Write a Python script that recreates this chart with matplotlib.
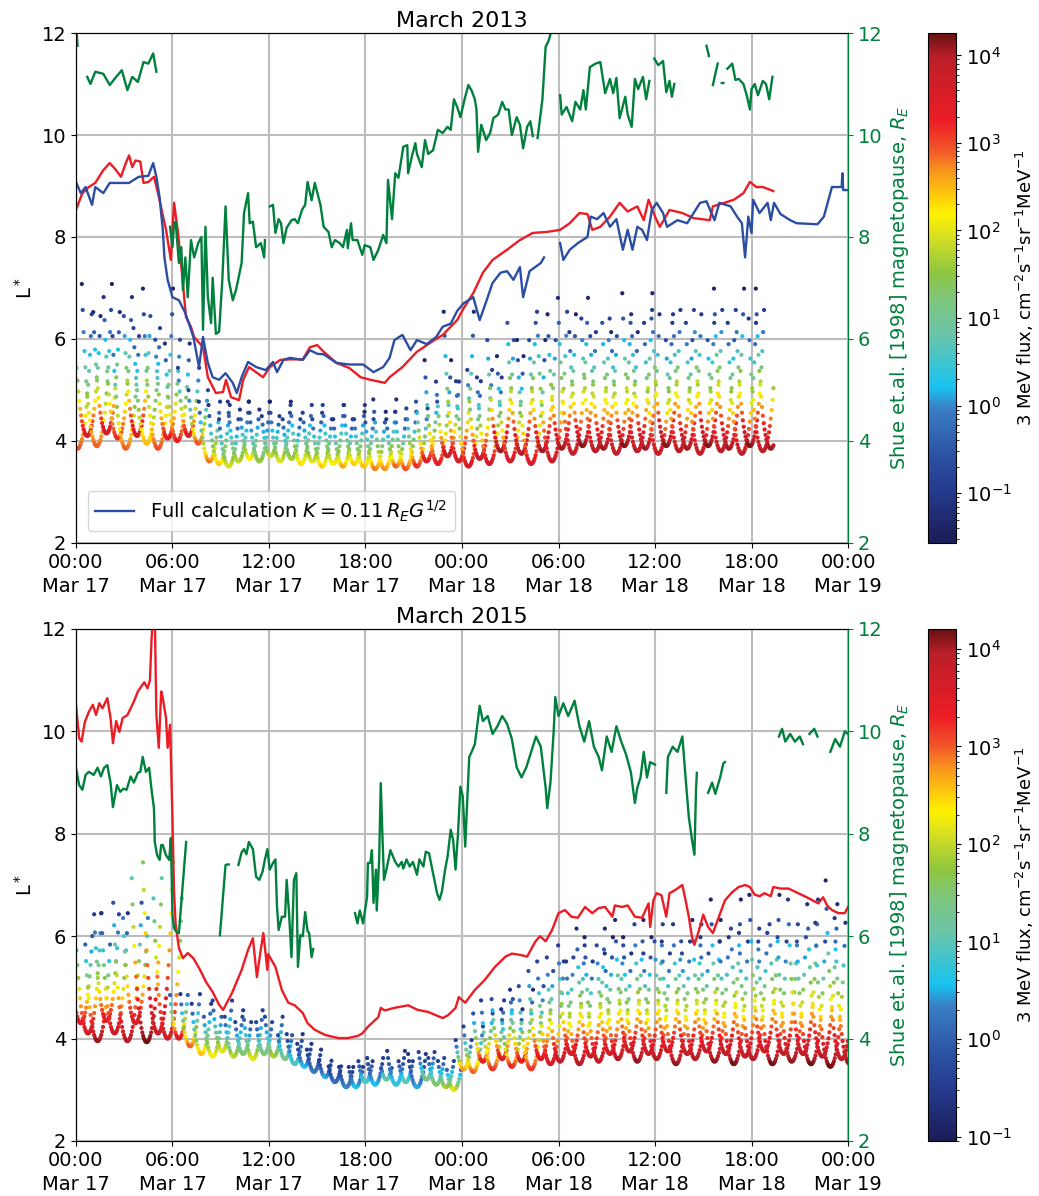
import numpy as np
import matplotlib
matplotlib.use('Agg')
import matplotlib.pyplot as plt
from matplotlib.colors import LinearSegmentedColormap, LogNorm

nan = np.nan

# ---------------- March 2013 (hours from 00:00 Mar 17) ----------------
red_13_t = [0.0, 0.4, 0.8, 1.2, 1.7, 2.1, 2.5, 2.8, 3.1, 3.3, 3.5, 3.7, 4.0, 4.2, 4.5, 4.85,
            5.1, 5.6, 5.9, 6.1, 6.34, 6.65, 6.84, 7.15, 7.34, 7.9, 8.2, 8.7, 9.14, 9.33, 9.64,
            10.14, 10.4, 10.76, 11.63, 12.06, 12.7, 13.3, 14.1, 14.55, 15.0, 15.4, 16.2, 17.0,
            17.7, 18.3, 19.2, 19.5, 20.3, 21.2, 22.0, 22.8, 23.7, 24.1, 24.7, 25.3, 25.9, 26.8,
            27.6, 28.4, 29.3, 30.1, 30.7, 31.3, 31.8, 32.1, 32.6, 33.2, 33.8, 34.3, 34.9, 35.3,
            35.6, 36.0, 36.3, 36.9, 37.7, 38.4, 39.4, 39.6, 40.9, 41.5, 41.9, 42.3, 42.7, 43.2, 43.35]
red_13 = [8.53, 8.86, 8.98, 9.06, 9.31, 9.45, 9.31, 9.18, 9.45, 9.6, 9.37, 9.5, 9.48, 9.06, 9.08, 9.18,
          8.86, 8.14, 7.55, 8.67, 8.1, 7.1, 6.43, 6.24, 6.04, 5.84, 5.25, 4.94, 4.96, 5.2, 4.86,
          4.8, 5.2, 5.45, 5.25, 5.45, 5.59, 5.6, 5.6, 5.84, 5.88, 5.75, 5.53, 5.43,
          5.25, 5.2, 5.14, 5.25, 5.45, 5.75, 5.92, 6.08, 6.37, 6.6, 6.9, 7.3, 7.55, 7.75,
          7.94, 8.08, 8.1, 8.14, 8.27, 8.47, 8.45, 8.14, 8.2, 8.4, 8.67, 8.5, 8.6, 8.33,
          8.73, 8.4, 8.2, 8.53, 8.47, 8.37, 8.33, 8.6, 8.73, 8.86, 9.08, 8.98, 8.98, 8.92, 8.9]

blue_13_t = [0.0, 0.3, 0.6, 1.0, 1.2, 1.7, 2.1, 2.7, 3.3, 3.9, 4.5, 4.8, 5.0, 5.2, 5.4, 5.5, 5.7,
             6.0, 6.4, 6.8, 7.3, 7.65, 7.9, 8.2, 8.5, 8.9, 9.3, 9.75, 10.0, 10.3, 10.7, 11.2, 11.8,
             12.25, 12.5, 12.9, 13.3, 14.1, 14.55, 15.0, 15.4, 16.2, 17.0, 17.85, 18.5, 19.1, 19.5,
             19.8, 20.3, 20.8, 21.2, 21.8, 22.4, 22.8, 23.3, 23.7, 24.1, 24.7, 25.1, 25.6, 25.9,
             26.4, 26.8, 27.2, 27.6, 27.8, 28.2, 28.9, 29.1, 29.6, 30.1, 30.3, 30.7, 31.2, 31.8,
             32.0, 32.4, 32.8, 33.2, 33.6, 34.0, 34.3, 34.6, 34.9, 35.2, 35.5, 35.8, 36.1, 36.5,
             36.75, 37.4, 38.0, 38.8, 39.2, 39.7, 40.0, 40.7, 41.1, 41.4, 41.6, 41.8, 42.0, 42.1,
             42.5, 43.0, 43.2, 43.4, 43.8, 44.4, 44.8, 46.1, 46.5, 47.0, 47.6, 47.65, 47.7, 48.0]
blue_13 = [9.08, 8.86, 8.98, 8.63, 8.98, 8.86, 9.06, 9.06, 9.06, 9.18, 9.2, 9.45, 9.18, 8.78, 8.14, 7.6, 7.16,
           6.82, 6.76, 6.51, 6.04, 5.45, 6.04, 5.53, 5.25, 5.2, 5.33, 5.14, 4.94, 5.25, 5.55, 5.45, 5.39,
           5.55, 5.35, 5.59, 5.63, 5.59, 5.78, 5.71, 5.7, 5.53, 5.5, 5.5, 5.35, 5.45, 5.63,
           5.98, 6.08, 5.78, 5.98, 5.9, 6.04, 6.24, 6.3, 6.55, 6.7, 6.82, 6.37, 6.82, 7.1,
           7.3, 7.33, 7.16, 7.41, 6.82, 7.33, 7.49, 7.6, nan, 7.88, 7.55, 7.75, 7.88, 8.0,
           8.4, 8.35, 8.47, 8.2, 8.35, 7.75, 8.14, 7.75, 8.2, 8.14, 7.94, 8.53, 8.67, 8.47,
           8.2, 8.33, 8.27, 8.67, 8.7, 8.33, 8.67, 8.6, 8.4, 8.27, 7.6, 8.4, 8.08, 8.73,
           8.47, 8.67, 8.33, 8.67, 8.45, 8.33, 8.27, 8.25, 8.4, 8.98, 8.98, 9.25, 8.92, 8.92]

green_13_t = [0.0, 0.1, 0.4, 0.7, 0.9, 1.2, 1.7, 2.1, 2.5, 2.85, 3.2, 3.5, 3.85, 4.2, 4.5, 4.8, 5.0,
              5.4, 5.85, 6.0, 6.1, 6.2, 6.4, 6.55, 6.65, 6.8, 6.95, 7.15, 7.35, 7.6, 7.8, 7.9, 8.05,
              8.2, 8.4, 8.5, 8.7, 8.9, 9.1, 9.3, 9.5, 9.75, 9.95, 10.3, 10.45, 10.7, 10.8, 11.0,
              11.2, 11.5, 11.7, 11.75, 11.9, 12.06, 12.25, 12.4, 12.6, 12.75, 12.9, 13.1, 13.4,
              13.6, 13.8, 14.05, 14.25, 14.4, 14.65, 14.85, 15.2, 15.4, 15.7, 15.9, 16.1, 16.4,
              16.6, 16.85, 16.9, 17.1, 17.2, 17.5, 17.8, 17.95, 18.3, 18.5, 18.8, 19.1, 19.3,
              19.4, 19.65, 19.85, 20.05, 20.35, 20.6, 20.65, 20.9, 21.1, 21.2, 21.5, 21.7, 21.9,
              22.2, 22.5, 22.8, 23.1, 23.3, 23.5, 23.7, 23.9, 24.2, 24.4, 24.6, 24.8, 24.9, 25.0,
              25.2, 25.5, 25.75, 25.95, 26.25, 26.5, 26.7, 26.9, 27.1, 27.4, 27.6, 27.8, 28.05,
              28.25, 28.4, 28.55, 28.7, 29.0, 29.2, 29.4, 29.6, 29.85, 30.1, 30.2, 30.5, 30.85,
              31.05, 31.35, 31.55, 31.7, 31.95, 32.3, 32.6, 32.9, 33.2, 33.4, 33.6, 33.8, 34.15,
              34.3, 34.55, 34.75, 34.95, 35.25, 35.45, 35.65, 35.8, 35.95, 36.2, 36.5, 36.7, 36.9,
              37.05, 37.2, 38.0, 39.2, 39.35, 39.45, 39.6, 39.75, 39.9, 40.05, 40.15, 40.25, 40.35,
              40.5, 40.8, 41.0, 41.2, 41.5, 41.7, 41.9, 42.0, 42.2, 42.4, 42.7, 42.9, 43.1, 43.3]
green_13 = [12.2, 11.75, nan, 11.14, 11.0, 11.24, 11.2, 10.98, 11.14, 11.27, 10.88, 11.14, 11.04, 11.43, 11.4, 11.6, 11.24,
            nan, 8.2, 7.8, 8.27, 8.3, 7.49, 7.8, 6.96, 7.6, 6.82, 7.94, 7.6, 7.88, 8.0, 6.18, 8.2,
            6.82, 6.31, 7.2, 6.1, 6.14, 7.16, 8.6, 7.16, 6.76, 6.96, 7.49, 8.47, 8.86, 8.27, 8.3,
            7.8, 7.88, 7.6, 7.94, nan, 8.6, 8.63, 8.08, 8.35, 8.27, 7.88, 8.18, 8.33,
            8.35, 8.27, 8.53, 8.63, 9.08, 8.72, 9.06, 8.63, 8.2, 8.1, 7.8, 7.94, 7.88,
            7.8, 8.14, 7.78, 8.27, 7.94, 7.94, 7.65, 7.84, 7.8, 7.55, 7.75, 8.04, 7.88,
            9.12, 8.35, 9.25, 9.16, 9.77, 9.8, 9.25, 9.6, 9.84, 9.63, 9.37, 9.9, 9.63,
            9.7, 10.1, 10.04, 10.16, 10.1, 10.7, 10.55, 10.35, 10.75, 10.98, 10.87, 10.7, 10.5, 9.67,
            10.2, 9.9, 10.04, 10.33, 10.4, 10.65, 10.5, 10.5, 10.0, 10.35, 10.2, 9.74, 10.16,
            10.27, 9.98, nan, 9.94, 10.7, 11.73, 11.86, 12.1, nan, 10.78, 10.4, 10.55, 10.27,
            10.65, 10.5, 10.88, 10.5, 11.33, 11.4, 11.43, 10.82, 11.1, 10.82, 11.12, 10.33, 10.75,
            10.4, 10.16, 11.1, 10.9, 11.14, 10.7, 11.06, nan, 11.5, 11.37, 11.45, 10.84, 11.06,
            10.75, 11.0, nan, 11.75, 11.55, nan, 10.98, 11.2, 11.4, nan, 11.02, 11.02, nan,
            11.3, 11.4, 11.08, 11.1, 11.0, 10.78, 10.5, 10.9, 11.0, 10.78, 11.06, 11.0, 10.7, 11.14]

# ---------------- March 2015 ----------------
red_15_t = [0.0, 0.2, 0.35, 0.55, 0.8, 1.05, 1.25, 1.45, 1.65, 1.95, 2.15, 2.3, 2.5, 2.7, 2.9, 3.2,
            3.4, 3.6, 3.85, 4.05, 4.25, 4.45, 4.6, 4.7, 4.8, 4.9, 5.0, 5.15, 5.3, 5.4, 5.6, 5.7,
            5.85, 6.0, 6.1, 6.2, 6.4, 6.65, 6.95, 7.3, 7.65, 8.1, 8.5, 8.9, 9.15, 9.7, 10.3,
            10.7, 11.0, 11.25, 11.45, 11.65, 11.9, 11.95, 12.4, 12.8, 13.2, 13.6, 14.1, 14.4,
            14.85, 15.5, 16.3, 16.9, 17.5, 17.8, 18.15, 18.6, 18.8, 18.95, 19.2, 19.8, 20.65,
            21.25, 21.9, 22.35, 22.8, 23.15, 23.6, 23.8, 24.2, 24.8, 25.4, 26.05, 26.7, 27.1,
            27.7, 28.05, 28.55, 28.85, 29.2, 29.6, 30.0, 30.4, 30.8, 31.2, 31.65, 32.1, 32.5,
            32.9, 33.35, 33.5, 33.95, 34.3, 34.75, 35.2, 35.6, 35.7, 35.9, 36.1, 36.4, 36.7,
            36.9, 37.25, 37.7, 37.9, 38.1, 38.3, 38.45, 38.7, 39.0, 39.3, 39.6, 39.9, 40.35,
            40.8, 41.2, 41.6, 41.9, 42.2, 42.5, 42.8, 43.2, 43.35, 43.8, 44.3, 44.9, 45.5,
            46.15, 46.45, 46.7, 47.0, 47.4, 47.8, 48.0]
red_15 = [10.52, 9.87, 9.8, 10.18, 10.38, 10.52, 10.32, 10.55, 10.45, 10.65, 10.26, 9.77, 10.2, 9.99, 10.26, 10.32,
          10.45, 10.58, 10.78, 10.87, 10.96, 10.84, 11.0, 11.8, 12.3, 12.3, 10.32, 9.68, 10.78, 10.65, 10.26, 9.68,
          10.13, 8.3, 6.86, 6.22, 5.77, 5.57, 5.67, 5.57, 5.38, 5.1, 4.91, 4.66, 4.56, 4.89, 5.34,
          5.73, 5.96, 5.2, 5.65, 6.06, 5.34, 5.65, 5.4, 4.95, 4.7, 4.65, 4.5, 4.3,
          4.17, 4.07, 4.01, 4.01, 4.05, 4.1, 4.23, 4.36, 4.42, 4.6, 4.55, 4.6, 4.65,
          4.56, 4.52, 4.46, 4.4, 4.46, 4.6, 4.81, 4.7, 4.95, 5.14, 5.4, 5.6, 5.66,
          5.63, 5.6, 5.89, 6.0, 5.9, 6.12, 6.45, 6.51, 6.38, 6.36, 6.57, 6.45, 6.55,
          6.57, 6.38, 6.6, 6.57, 6.6, 6.38, 6.36, 6.64, 6.18, 6.7, 6.84, 6.8, 6.38,
          6.84, 6.9, 7.0, 6.7, 6.38, 5.98, 5.83, 6.08, 6.42, 6.18, 6.06, 6.32, 6.7,
          6.86, 6.96, 7.0, 6.96, 6.81, 6.78, 6.84, 6.78, 6.96, 6.93, 6.93, 6.84, 6.75,
          6.64, 6.76, 6.6, 6.51, 6.45, 6.45, 6.57]

green_15_t = [0.0, 0.2, 0.4, 0.6, 0.8, 1.1, 1.35, 1.55, 1.75, 1.95, 2.15, 2.3, 2.55, 2.75, 2.95, 3.15,
              3.4, 3.6, 3.85, 4.0, 4.15, 4.35, 4.55, 4.7, 4.85, 4.9, 5.05, 5.2, 5.3, 5.4, 5.6, 5.8,
              5.9, 6.0, 6.1, 6.2, 6.4, 6.6, 6.7, 6.85, 7.5, 8.95, 9.1, 9.3, 9.4, 9.5, 9.8, 10.1,
              10.3, 10.45, 10.6, 10.75, 11.0, 11.2, 11.4, 11.6, 11.75, 11.9, 12.05, 12.25, 12.4,
              12.5, 12.6, 12.8, 13.0, 13.1, 13.25, 13.4, 13.55, 13.7, 13.8, 13.95, 14.1, 14.25,
              14.4, 14.5, 14.65, 14.75, 16.0, 17.35, 17.5, 17.65, 17.85, 18.1, 18.15, 18.3, 18.4,
              18.5, 18.65, 18.7, 18.85, 18.95, 19.05, 19.15, 19.3, 19.55, 19.85, 20.05, 20.25,
              20.35, 20.55, 20.75, 20.95, 21.2, 21.35, 21.6, 21.75, 21.95, 22.2, 22.45, 22.6,
              22.75, 22.95, 23.1, 23.3, 23.45, 23.6, 23.75, 23.9, 24.05, 24.2, 24.3, 24.45, 24.6,
              24.8, 25.1, 25.3, 25.6, 25.9, 26.2, 26.5, 26.8, 27.1, 27.4, 27.7, 28.0, 28.3, 28.6,
              28.9, 29.2, 29.3, 29.5, 29.7, 29.8, 30.0, 30.3, 30.6, 31.0, 31.3, 31.6, 31.9, 32.2,
              32.5, 32.7, 33.0, 33.3, 33.6, 33.9, 34.2, 34.5, 34.75, 34.9, 35.1, 35.3, 35.5, 35.7,
              36.0, 36.3, 36.7, 36.8, 37.1, 37.4, 37.7, 37.9, 38.1, 38.3, 38.45, 38.55, 38.6, 38.9,
              39.3, 39.55, 39.75, 40.05, 40.25, 40.35, 41.0, 43.7, 43.9, 44.1, 44.4, 44.7, 45.0,
              45.2, 45.4, 45.6, 45.9, 46.1, 46.4, 46.9, 47.2, 47.5, 47.8, 48.0]
green_15 = [9.29, 8.95, 8.86, 9.15, 9.21, 9.15, 9.29, 9.12, 9.29, 9.34, 9.0, 8.52, 8.95, 8.82, 8.88, 8.86,
            9.12, 9.0, 9.19, 9.21, 9.5, 9.21, 9.29, 8.86, 8.5, 7.84, 7.58, 7.49, 7.78, 7.78, 7.58, 7.49,
            7.92, 6.41, 6.16, 6.1, 6.06, 6.86, 7.26, 7.84, nan, 6.02, 6.6, 7.39, 7.4, 7.4, nan, 7.39,
            7.64, 7.7, 7.6, 7.84, 7.7, 7.16, 7.1, 7.26, 7.5, 7.7, 7.3, 7.43, 7.5,
            6.57, 6.12, 6.38, 6.38, 7.1, 6.44, 5.59, 7.1, 7.23, 5.4, 6.02, 6.0, 6.47,
            6.1, 6.06, 5.59, 5.75, nan, 6.45, 6.25, 6.5, 6.25, 6.77, 7.43, 7.43, 7.68,
            6.65, 7.3, 6.5, 7.5, 8.99, 8.0, 7.1, 7.3, 7.68, 7.45, 7.36, 7.45,
            7.32, 7.5, 7.36, 7.45, 7.2, 7.5, 7.36, 7.65, 7.62, 7.23, 6.84, 6.71,
            6.87, 7.3, 7.55, 8.08, 7.88, 7.3, 8.0, 8.92, 8.73, 7.75, 8.47, 9.5, 9.6,
            9.75, 10.5, 10.2, 10.3, 9.95, 10.1, 10.3, 10.15, 9.85, 9.3, 9.1, 9.3, 9.6, 9.9,
            9.7, 8.9, 8.5, 9.0, 10.0, 10.67, 10.3, 10.55, 10.3, 10.6, 10.1, 9.8, 10.2, 9.7,
            9.5, 9.24, 9.9, 9.6, 10.1, 9.8, 9.55, 9.2, 8.6, 8.9, 9.1, 9.6, 9.1, 9.4,
            9.35, nan, 8.8, 9.5, 9.7, 9.6, 9.9, 9.1, 8.33, 7.88, 7.59, 8.86, 9.19, nan,
            8.8, 9.0, 8.78, 9.1, 9.38, 9.4, nan, 9.9, 10.05, 9.8, 9.95, 9.8, 9.9,
            9.75, nan, 9.95, 10.05, 9.9, nan, 9.6, 9.85, 9.7, 10.0, 9.95]

# ---------------- satellite equator passes ----------------
# crossing time [h], minimum L*, log10 flux at minimum, highest L* on the arms
pass_13_t = [0.1, 0.7, 1.3, 1.9, 2.6, 3.1, 3.8, 4.4, 5.1, 5.7,
             6.3, 7.0, 7.6, 8.3,
             8.9, 9.5, 10.1, 10.8, 11.4, 12.1,
             12.7, 13.4, 14.0, 14.7, 15.3, 16.0, 16.6, 17.3, 17.9,
             18.6, 19.2, 19.9, 20.5, 21.2,
             21.8, 22.5, 23.1, 23.8,
             24.4, 25.1, 25.7, 26.4, 27.0, 27.7, 28.3, 29.0, 29.6,
             30.2, 30.9, 31.5, 32.3, 32.8, 33.6, 34.1, 34.9, 35.4, 36.2, 36.7,
             37.5, 38.0, 38.8, 39.3, 40.1, 40.6, 41.4, 41.9, 42.7, 43.2]
pass_13_lmin = [3.85, 4.1, 3.9, 4.15, 4.05, 3.85, 4.1, 3.95, 3.85, 4.05,
                4.0, 4.1, 3.95, 3.6,
                3.55, 3.5, 3.6, 3.65, 3.6, 3.7,
                3.6, 3.65, 3.55, 3.6, 3.5, 3.55, 3.5, 3.55, 3.5,
                3.45, 3.45, 3.5, 3.45, 3.5,
                3.6, 3.55, 3.7, 3.6,
                3.5, 3.65, 3.55, 3.8, 3.6, 3.75, 3.55, 3.8, 3.6,
                3.85, 3.75, 3.9, 3.8, 3.85, 3.75, 3.9, 3.8, 3.85, 3.75, 3.9,
                3.8, 3.85, 3.75, 3.9, 3.8, 3.85, 3.75, 3.9, 3.8, 3.85]
pass_13_flux = [3.0, 3.6, 2.9, 3.7, 3.2, 2.9, 3.7, 2.5, 3.0, 3.4,
                3.3, 3.6, 3.0, 2.8,
                2.4, 2.0, 1.8, 2.2, 1.6, 1.9,
                2.0, 1.7, 2.3, 2.0, 2.4, 2.2, 2.6, 2.4, 2.5,
                2.8, 2.7, 2.9, 3.0, 3.2,
                3.5, 3.4, 3.8, 3.6,
                3.6, 3.9, 3.7, 4.1, 3.7, 4.0, 3.6, 4.1, 3.8,
                4.1, 3.9, 4.2, 4.0, 4.1, 3.9, 4.2, 4.0, 4.1, 3.8, 4.2,
                4.0, 4.1, 3.9, 4.2, 4.0, 4.1, 3.9, 4.2, 4.0, 4.1]
pass_13_ltop = [6.9, 6.5, 7.1, 6.6, 7.0, 6.4, 6.9, 6.6, 7.0, 6.3,
                6.0, 5.6, 5.2, 4.9,
                4.8, 4.6, 4.9, 4.7, 4.8, 4.6,
                4.8, 4.6, 4.9, 4.7, 4.6, 4.9, 4.5, 4.8, 4.6,
                4.6, 4.9, 4.5, 4.7, 4.8,
                5.0, 5.6, 5.3, 6.6,
                5.3, 5.6, 5.4, 6.3, 5.7, 6.8, 6.0, 6.3, 6.9,
                6.5, 6.9, 6.3, 6.7, 6.4, 6.8, 6.2, 6.9, 6.6, 6.5, 6.8,
                6.3, 6.7, 6.6, 6.9, 6.4, 7.0, 6.5, 6.8, 6.6, 7.0]
PASS_13_FTOP = -1.4
END_13 = 43.4

pass_15_t = [0.3, 0.75, 1.35, 1.9, 2.4, 3.2, 3.7, 4.4, 5.1, 5.7,
             6.4, 7.1, 7.8, 8.5, 9.1,
             9.8, 10.4, 11.0, 11.7, 12.3, 13.0, 13.6,
             14.2, 14.8, 15.5, 16.1, 16.8, 17.4,
             18.0, 18.6, 19.3, 19.9, 20.5, 21.2, 21.8, 22.4, 23.0, 23.5,
             24.1, 24.7, 25.3, 25.9, 26.5, 27.1, 27.7, 28.3, 28.9, 29.5,
             30.1, 30.8, 31.3, 32.0, 32.5, 33.2, 33.7, 34.4, 34.9, 35.6, 36.1,
             36.8, 37.3, 38.0, 38.5, 39.2, 39.7, 40.4, 40.9, 41.6, 42.1, 42.8,
             43.3, 44.0, 44.5, 45.2, 45.7, 46.4, 46.9, 47.6, 48.1]
pass_15_lmin = [4.3, 4.1, 3.95, 4.35, 4.1, 3.95, 4.3, 3.93, 4.1, 4.0,
                4.0, 3.85, 3.7, 3.65, 3.75,
                3.65, 3.7, 3.6, 3.7, 3.65, 3.6, 3.5,
                3.45, 3.35, 3.25, 3.15, 3.05, 3.05,
                3.15, 3.1, 3.2, 3.1, 3.15, 3.05, 3.2, 3.1, 3.05, 3.0,
                3.4, 3.35, 3.55, 3.4, 3.6, 3.45, 3.55, 3.4, 3.6, 3.5,
                3.55, 3.7, 3.5, 3.65, 3.55, 3.7, 3.6, 3.75, 3.55, 3.7, 3.6,
                3.75, 3.5, 3.7, 3.6, 3.75, 3.55, 3.7, 3.5, 3.65, 3.6, 3.75,
                3.5, 3.7, 3.55, 3.7, 3.5, 3.65, 3.45, 3.6, 3.5]
pass_15_flux = [3.5, 3.7, 4.1, 3.5, 3.8, 4.0, 3.6, 4.2, 3.8, 3.7,
                3.6, 3.0, 2.6, 2.4, 2.2,
                2.0, 1.6, 2.2, 1.5, 1.9, 1.4, 1.0,
                0.6, 0.3, 0.5, 0.2, 0.4, 0.6,
                1.0, 0.6, 1.3, 0.8, 1.1, 0.5, 1.4, 1.6, 1.9, 2.2,
                2.8, 3.0, 3.4, 3.2, 3.6, 3.3, 3.5, 3.2, 3.6, 3.7,
                3.9, 3.7, 4.0, 3.8, 3.9, 3.7, 4.0, 3.8, 4.1, 3.8, 4.0,
                3.8, 4.1, 3.9, 4.0, 3.8, 4.1, 3.9, 4.2, 3.9, 4.0, 3.8,
                4.2, 3.9, 4.1, 3.9, 4.2, 4.0, 4.2, 3.9, 4.1]
pass_15_ltop = [6.3, 6.7, 6.2, 6.6, 6.5, 6.8, 6.4, 7.2, 7.5, 7.0,
                5.0, 4.9, 4.7, 4.6, 4.8,
                4.5, 4.4, 4.6, 4.4, 4.5, 4.2, 4.1,
                3.9, 3.8, 3.6, 3.5, 3.45, 3.5,
                3.6, 3.7, 3.5, 3.8, 3.6, 3.7, 3.8, 3.7, 3.6, 3.5,
                4.0, 4.3, 4.6, 4.8, 4.9, 4.6, 5.0, 5.3, 5.6, 5.7,
                5.9, 6.1, 5.7, 6.3, 6.0, 6.2, 5.8, 6.4, 6.0, 6.6, 5.9,
                6.3, 6.1, 6.5, 6.0, 6.4, 6.2, 6.8, 6.1, 6.5, 6.3, 6.9,
                6.2, 6.6, 6.4, 7.0, 6.3, 6.8, 6.5, 7.2, 6.6]
pass_15_ftop = [-0.8, -0.8, -0.8, -0.8, -0.8, -0.4, 0.2, 1.0, 1.6, 0.6,
                -0.6, -0.6, -0.6, -0.6, -0.6,
                -0.6, -0.6, -0.6, -0.6, -0.6, -0.6, -0.6,
                -0.6, -0.6, -0.6, -0.6, -0.6, -0.6,
                -0.6, -0.6, -0.6, -0.6, -0.6, -0.6, -0.6, -0.6, -0.6, -0.6,
                -0.6, -0.6, -0.6, -0.6, -0.6, -0.8, -0.8, -0.8, -0.8, -0.8,
                -1.0, -1.0, -1.0, -1.0, -1.0, -1.0, -1.0, -1.0, -1.0, -1.0, -1.0,
                -1.0, -1.0, -1.0, -1.0, -1.0, -1.0, -1.0, -1.0, -1.0, -1.0, -1.0,
                -1.0, -1.0, -1.0, -1.0, -1.0, -1.0, -1.0, -1.0, -1.0]
END_15 = 48.0

tick_hours = [0, 6, 12, 18, 24, 30, 36, 42, 48]
tick_labels = ['00:00\nMar 17', '06:00\nMar 17', '12:00\nMar 17', '18:00\nMar 17',
               '00:00\nMar 18', '06:00\nMar 18', '12:00\nMar 18', '18:00\nMar 18',
               '00:00\nMar 19']

RED = '#ec1c24'
BLUE = '#2b4ea2'
GREEN = '#00803c'

flux_cmap = LinearSegmentedColormap.from_list('flux', [
    (0.0, '#1b1d55'), (0.10, '#253a8e'), (0.17, '#2c52a3'), (0.265, '#3a80c6'),
    (0.305, '#18c3f0'), (0.41, '#6cc5a8'), (0.48, '#80c67a'), (0.53, '#8dc63f'),
    (0.60, '#d7df23'), (0.645, '#fff200'), (0.69, '#fdc010'), (0.73, '#f7941d'),
    (0.77, '#f15a29'), (0.83, '#ec1c24'), (0.955, '#bb1f29'), (1.0, '#6a1012')])


def orbit_points(t0s, lmins, f0s, ltops, ftops, t_end, rate=45.0, step=0.055):
    # dipole-like L along each pass: L = Lmin / cos^2(latitude)
    ts, ls, fs = [], [], []
    for t0, lmin, f0, ltop, ftop in zip(t0s, lmins, f0s, ltops, ftops):
        lam = np.degrees(np.arccos(np.sqrt(lmin / ltop)))
        n = int(lam / rate / step)
        dt = np.arange(-n, n + 1) * step
        lv = lmin / np.cos(np.radians(rate * dt)) ** 2
        fv = f0 + (ftop - f0) * (lv - lmin) / (ltop - lmin)
        t = t0 + dt
        ok = (t >= 0) & (t <= t_end)
        ts.append(t[ok])
        ls.append(lv[ok])
        fs.append(fv[ok])
    return np.concatenate(ts), np.concatenate(ls), 10 ** np.concatenate(fs)


def draw_panel(fig, rect, crect, title, pts, vmin, vmax, red, green, blue=None):
    ax = fig.add_axes(rect)
    ax.grid(True, color='#bdbdbd', lw=1.5, zorder=0)
    ax.set_axisbelow(True)
    t, l, f = pts
    sc = ax.scatter(t, l, c=f, s=9, cmap=flux_cmap, norm=LogNorm(vmin, vmax),
                    linewidths=0, zorder=2)
    ax.plot(red[0], red[1], color=RED, lw=1.7, zorder=3)
    if blue is not None:
        ax.plot(blue[0], blue[1], color=BLUE, lw=1.7, zorder=4,
                label=r'Full calculation $K = 0.11\,R_E G^{1/2}$')
        ax.legend(loc='lower left', fontsize=14, borderaxespad=0.6)
    ax.set_xlim(0, 48)
    ax.set_ylim(2, 12)
    ax.set_xticks(tick_hours)
    ax.set_xticklabels(tick_labels, fontsize=14, linespacing=1.35)
    ax.set_yticks([2, 4, 6, 8, 10, 12])
    ax.tick_params(labelsize=14)
    ax.set_ylabel(r'L$^*$', fontsize=14)
    ax.set_title(title, fontsize=16, pad=4)

    ax2 = ax.twinx()
    ax2.plot(green[0], green[1], color=GREEN, lw=1.7)
    ax2.set_ylim(2, 12)
    ax2.set_yticks([2, 4, 6, 8, 10, 12])
    ax2.tick_params(axis='y', colors=GREEN, labelsize=14)
    ax2.spines['right'].set_color(GREEN)
    ax2.set_ylabel(r'Shue et.al. [1998] magnetopause, $R_E$', color=GREEN, fontsize=14)

    cax = fig.add_axes(crect)
    cb = fig.colorbar(sc, cax=cax)
    cb.ax.tick_params(labelsize=14)
    cb.set_label(r'3 MeV flux, cm$^{-2}$s$^{-1}$sr$^{-1}$MeV$^{-1}$', fontsize=13, labelpad=2)
    return ax


fig = plt.figure(figsize=(10.39, 11.96), dpi=100)

pts_13 = orbit_points(pass_13_t, pass_13_lmin, pass_13_flux, pass_13_ltop,
                      [PASS_13_FTOP] * len(pass_13_t), END_13)
pts_15 = orbit_points(pass_15_t, pass_15_lmin, pass_15_flux, pass_15_ltop,
                      pass_15_ftop, END_15)

draw_panel(fig, [0.0731, 0.546, 0.7431, 0.4264], [0.893, 0.546, 0.027, 0.4264],
           'March 2013', pts_13, 0.027, 1.8e4,
           (red_13_t, red_13), (green_13_t, green_13), (blue_13_t, blue_13))
draw_panel(fig, [0.0731, 0.046, 0.7431, 0.4281], [0.893, 0.046, 0.027, 0.4281],
           'March 2015', pts_15, 0.09, 1.6e4,
           (red_15_t, red_15), (green_15_t, green_15))

fig.savefig('out.png', dpi=100)
